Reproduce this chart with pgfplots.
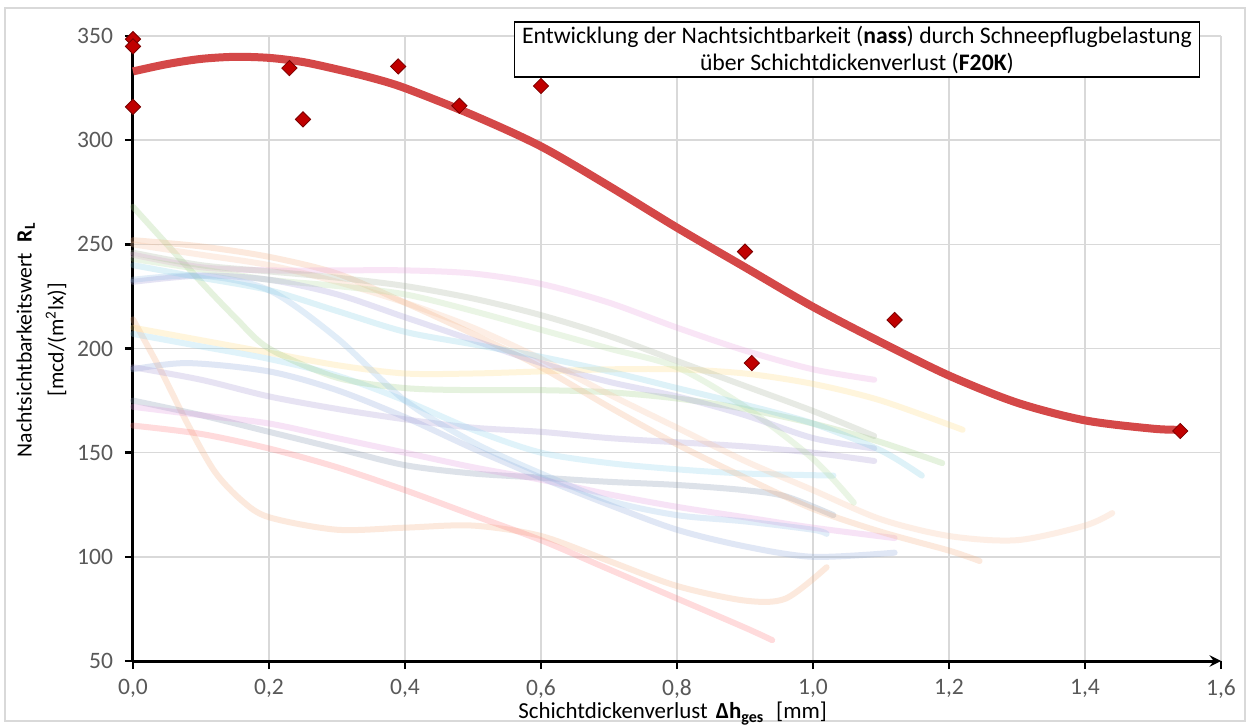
\documentclass[border=0pt]{standalone}
\usepackage{fontspec}
\setmainfont{Carlito}
\usepackage{pgfplots}
\pgfplotsset{compat=1.18}
\definecolor{tickgray}{HTML}{595959}
\definecolor{gridgray}{HTML}{D9D9D9}
\definecolor{trendred}{HTML}{D44848}
\definecolor{markred}{HTML}{C00000}
\definecolor{markedge}{HTML}{7A0000}
\definecolor{cA}{HTML}{F4B183}
\definecolor{cB}{HTML}{FF7C80}
\definecolor{cC}{HTML}{8497B0}
\definecolor{cD}{HTML}{E29BE0}
\definecolor{cE}{HTML}{8EA9DB}
\definecolor{cF}{HTML}{A99BD6}
\definecolor{cG}{HTML}{FFDD7F}
\definecolor{cH}{HTML}{8FD6F0}
\definecolor{cI}{HTML}{9FCF86}
\definecolor{cJ}{HTML}{F4B183}
\definecolor{cK}{HTML}{F8C3A0}
\definecolor{cL}{HTML}{E9A0E0}
\definecolor{cM}{HTML}{A8B59C}
\definecolor{cN}{HTML}{B5DCA0}
\definecolor{cO}{HTML}{A29AD8}
\definecolor{cP}{HTML}{92BDE6}
\definecolor{cQ}{HTML}{86D0E6}
\begin{document}
\begin{tikzpicture}
\useasboundingbox (-66.5bp,-32bp) rectangle (558bp,330.5bp);
\fill[white] (-66.5bp,-32bp) rectangle (558bp,330.5bp);
\draw[color=gridgray, line width=0.8bp] (-64bp,-30bp) rectangle (556bp,326.5bp);
\begin{axis}[
  at={(0,0)}, anchor=south west,
  scale only axis,
  width=544bp, height=312.5bp,
  xmin=0, xmax=1.6, ymin=50, ymax=350,
  axis lines=left,
  x axis line style={-stealth, line width=1.5bp},
  y axis line style={-, line width=1.5bp},
  xtick={0,0.2,0.4,0.6,0.8,1.0,1.2,1.4,1.6},
  ytick={50,100,150,200,250,300,350},
  tick align=outside,
  major tick length=4bp,
  tick style={black, line width=1.2bp},
  grid=major,
  grid style={color=gridgray, line width=0.7bp},
  clip=false,
  /pgf/number format/assume math mode=true,
  x tick label style={/pgf/number format/use comma, /pgf/number format/fixed, /pgf/number format/fixed zerofill, /pgf/number format/precision=1, inner sep=1bp, yshift=-4bp},
  ticklabel style={font=\fontsize{11.8}{14}\selectfont, color=tickgray},
  y tick label style={xshift=-2.5bp},
  xlabel={Schichtdickenverlust\hspace{4bp}{\bfseries Δh\textsubscript{ges}}\hspace{6bp}[mm]},
  xlabel style={at={(axis description cs:0.496,-0.0925)}, anchor=base, inner sep=0.5bp, font=\fontsize{11.5}{13}\selectfont},
  ylabel={Nachtsichtbarkeitswert\enspace{\bfseries R\textsubscript{L}}\\{}[mcd/(m\textsuperscript{2}lx)]},
  ylabel style={at={(axis description cs:-0.0841,0.514)}, anchor=center, align=center, font=\fontsize{10.9}{16}\selectfont},
  pastel/.style={smooth, line width=3bp, opacity=0.27, line cap=round},
]
% background curves
\addplot[pastel, color=cA] coordinates {(0,214) (0.04,190) (0.08,164) (0.12,141) (0.16,127) (0.2,119) (0.3,113) (0.4,114) (0.5,115) (0.6,110) (0.7,98) (0.8,86) (0.9,79) (0.96,80) (1.02,95)};
\addplot[pastel, color=cB] coordinates {(0,163) (0.1,159) (0.2,152) (0.3,143) (0.4,132) (0.5,120) (0.6,108) (0.7,94) (0.8,80) (0.9,66) (0.94,60)};
\addplot[pastel, color=cC] coordinates {(0,175) (0.1,168) (0.2,160) (0.3,152) (0.4,144) (0.5,140) (0.6,138) (0.7,136) (0.8,134.5) (0.9,132) (0.96,129) (1.03,120)};
\addplot[pastel, color=cD] coordinates {(0,172) (0.1,168) (0.2,164) (0.3,157) (0.4,150) (0.5,143) (0.6,137) (0.7,130) (0.8,124) (0.9,119) (1.0,114) (1.12,109)};
\addplot[pastel, color=cE] coordinates {(0,190) (0.08,193) (0.2,189) (0.3,180) (0.4,167) (0.5,152) (0.6,138) (0.7,125) (0.8,113) (0.9,105) (1.0,100) (1.12,102)};
\addplot[pastel, color=cF] coordinates {(0,191) (0.1,185) (0.2,177) (0.3,171) (0.4,166) (0.5,162) (0.6,160) (0.7,157) (0.8,155) (0.9,153) (1.0,150) (1.09,146)};
\addplot[pastel, color=cG] coordinates {(0,210) (0.1,204) (0.2,198) (0.3,192) (0.4,188) (0.5,188) (0.6,189) (0.7,190) (0.8,190) (0.9,188) (1.0,183) (1.1,175) (1.22,161)};
\addplot[pastel, color=cH] coordinates {(0,207) (0.1,201) (0.2,195) (0.3,187) (0.4,175) (0.5,161) (0.6,150) (0.7,145) (0.8,142) (0.9,140) (1.03,139)};
\addplot[pastel, color=cI] coordinates {(0,268) (0.05,250) (0.1,232) (0.15,215) (0.2,200) (0.3,186) (0.4,181) (0.5,180) (0.6,180) (0.7,179) (0.8,176) (0.9,171) (1.0,164) (1.1,155) (1.19,145)};
\addplot[pastel, color=cJ] coordinates {(0,252) (0.1,249) (0.2,244) (0.3,236) (0.4,222) (0.5,207) (0.6,191) (0.7,172) (0.8,154) (0.9,138) (1.0,123) (1.1,112) (1.2,103) (1.245,98)};
\addplot[pastel, color=cK] coordinates {(0,250) (0.1,245) (0.2,240) (0.3,232) (0.4,222) (0.5,210) (0.6,195) (0.7,178) (0.8,162) (0.9,146) (1.0,132) (1.1,118) (1.2,110) (1.3,108) (1.4,115) (1.44,121)};
\addplot[pastel, color=cL] coordinates {(0,245) (0.1,239) (0.2,237.5) (0.3,237.5) (0.4,237.5) (0.5,236) (0.6,231) (0.7,222) (0.8,210) (0.9,199) (1.0,190) (1.09,185)};
\addplot[pastel, color=cM] coordinates {(0,246) (0.1,240) (0.2,237) (0.3,234) (0.4,230) (0.5,224) (0.6,216) (0.7,206) (0.8,194) (0.9,182) (1.0,170) (1.09,158)};
\addplot[pastel, color=cN] coordinates {(0,243) (0.1,238) (0.2,233) (0.3,230) (0.4,226) (0.5,218) (0.6,209) (0.7,200) (0.8,191) (0.9,172) (1.0,147) (1.06,126)};
\addplot[pastel, color=cO] coordinates {(0,232) (0.1,235) (0.2,233) (0.3,226) (0.4,215) (0.5,204) (0.6,193) (0.7,184) (0.8,177) (0.9,168) (1.0,157) (1.09,152)};
\addplot[pastel, color=cP] coordinates {(0,233) (0.1,235) (0.2,228) (0.3,205) (0.4,175) (0.5,155) (0.6,140) (0.7,127) (0.8,120) (0.9,117) (1.0,113) (1.02,111)};
\addplot[pastel, color=cQ] coordinates {(0,240) (0.1,234) (0.2,228) (0.3,218) (0.4,208) (0.5,202) (0.6,196) (0.7,189) (0.8,181) (0.9,173) (1.0,164) (1.1,151) (1.16,139)};
% trend
\addplot[smooth, color=trendred, line width=4bp] coordinates {(0,333) (0.05,336.5) (0.1,339) (0.15,340) (0.2,339.5) (0.25,337.5) (0.3,334) (0.35,330) (0.4,325) (0.5,312) (0.6,297) (0.7,278) (0.8,258) (0.9,239) (1.0,220) (1.1,203) (1.2,187) (1.3,174) (1.4,165.5) (1.5,161.5) (1.54,161)};
% measured points
\addplot[only marks, mark=square*, mark size=2.7bp, mark options={rotate=45, fill=markred, draw=markedge, line width=0.4bp}] coordinates {(0,348.5) (0,345) (0,316) (0.23,334.6) (0.25,310) (0.39,335.4) (0.48,316.5) (0.6,326) (0.9,246.5) (0.91,193) (1.12,213.7) (1.54,160.4)};
\node[draw=black, line width=0.9bp, fill=white, align=center, minimum width=342.5bp, minimum height=27.5bp, inner sep=1bp, font=\fontsize{11.9}{13.5}\selectfont] at (axis description cs:0.6654,0.978) {Entwicklung der Nachtsichtbarkeit (\textbf{nass}) durch Schneepflugbelastung\\über Schichtdickenverlust (\textbf{F20K})};
\end{axis}
\end{tikzpicture}
\end{document}
